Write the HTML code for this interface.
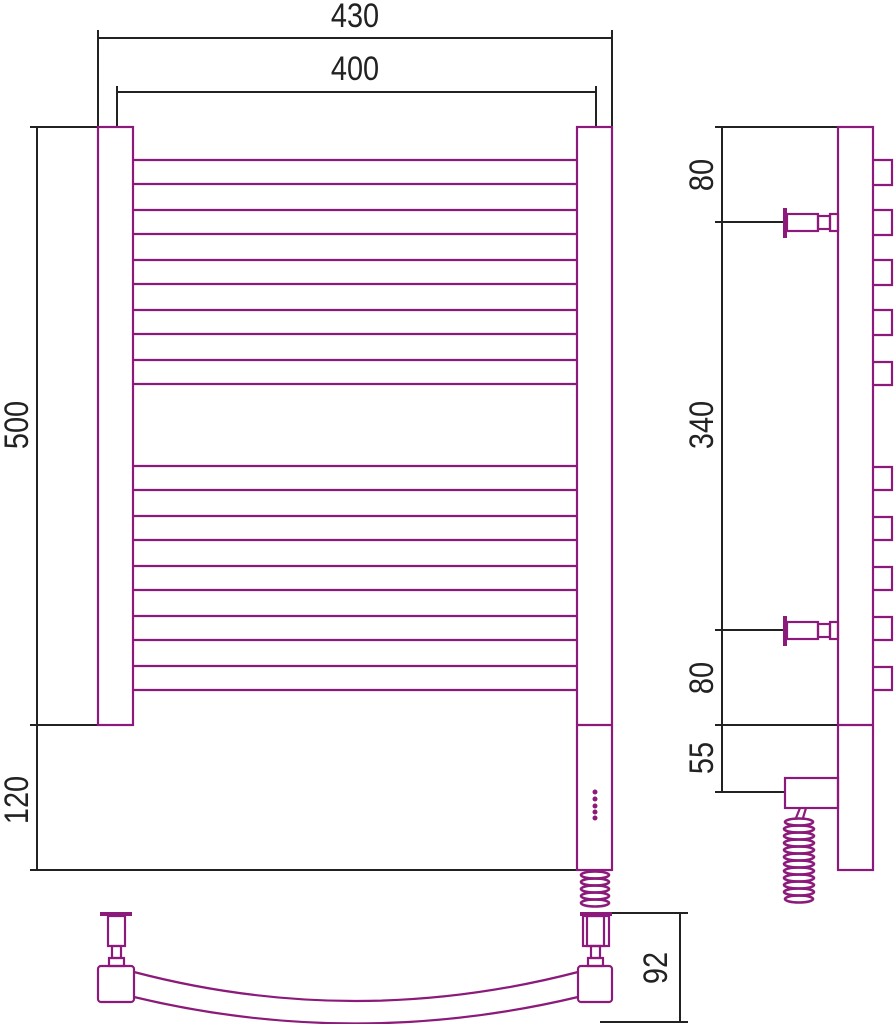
<!DOCTYPE html>
<html><head><meta charset="utf-8"><style>html,body{margin:0;padding:0;background:#fff}svg{display:block}text{font-family:"Liberation Sans",sans-serif;font-size:34px;fill:#222}</style></head><body>
<svg width="896" height="1024" viewBox="0 0 896 1024" xmlns="http://www.w3.org/2000/svg">
<g stroke="#222" stroke-width="2" fill="none">
<line x1="98" y1="38" x2="612" y2="38"/><line x1="98" y1="30" x2="98" y2="127"/><line x1="612" y1="30" x2="612" y2="127"/>
<line x1="117" y1="92" x2="596" y2="92"/><line x1="117" y1="86" x2="117" y2="127"/><line x1="596" y1="86" x2="596" y2="127"/>
<line x1="37" y1="127" x2="37" y2="870"/><line x1="30" y1="127" x2="98" y2="127"/><line x1="30" y1="725" x2="98" y2="725"/><line x1="30" y1="870" x2="577" y2="870"/>
<line x1="722" y1="127" x2="722" y2="792"/><line x1="715" y1="127" x2="838" y2="127"/><line x1="715" y1="222" x2="785" y2="222"/><line x1="715" y1="630" x2="785" y2="630"/><line x1="715" y1="725" x2="838" y2="725"/><line x1="715" y1="792" x2="785" y2="792"/>
<line x1="680" y1="913" x2="680" y2="1022"/><line x1="612" y1="913" x2="688" y2="913"/><line x1="600" y1="1022" x2="688" y2="1022"/>
</g>
<g>
<text x="355" y="27" text-anchor="middle" transform="translate(355 0) scale(0.85 1) translate(-355 0)">430</text>
<text x="355" y="80" text-anchor="middle" transform="translate(355 0) scale(0.85 1) translate(-355 0)">400</text>
<text transform="translate(28 425) rotate(-90) scale(0.85 1)" text-anchor="middle">500</text>
<text transform="translate(28 800) rotate(-90) scale(0.85 1)" text-anchor="middle">120</text>
<text transform="translate(713 175) rotate(-90) scale(0.85 1)" text-anchor="middle">80</text>
<text transform="translate(713 425) rotate(-90) scale(0.85 1)" text-anchor="middle">340</text>
<text transform="translate(713 678) rotate(-90) scale(0.85 1)" text-anchor="middle">80</text>
<text transform="translate(713 758) rotate(-90) scale(0.85 1)" text-anchor="middle">55</text>
<text transform="translate(667 968) rotate(-90) scale(0.85 1)" text-anchor="middle">92</text>
</g>
<g stroke="#8b1a7a" stroke-width="2.2" fill="none">
<rect x="98" y="127" width="35" height="598"/>
<rect x="577" y="127" width="35" height="743"/><line x1="577" y1="725" x2="612" y2="725"/>
<path d="M133 160H577M133 184H577M133 210H577M133 234H577M133 260H577M133 284H577M133 310H577M133 334H577M133 360H577M133 384H577"/>
<path d="M133 466H577M133 490H577M133 516H577M133 540H577M133 566H577M133 590H577M133 616H577M133 640H577M133 666H577M133 690H577"/>
<g stroke-width="2.6">
<ellipse cx="595" cy="875" rx="14" ry="3.5"/><ellipse cx="595" cy="882" rx="14" ry="3.5"/><ellipse cx="595" cy="889" rx="14" ry="3.5"/><ellipse cx="595" cy="896" rx="14" ry="3.5"/><ellipse cx="595" cy="903" rx="14" ry="3.5"/>
</g>
<rect x="838" y="127" width="35" height="743"/><line x1="838" y1="725" x2="873" y2="725"/>
<path d="M873 160h19v25h-19M873 210h19v25h-19M873 260h19v25h-19M873 310h19v25h-19M873 362h19v23h-19M873 467h19v23h-19M873 517h19v23h-19M873 567h19v23h-19M873 617h19v23h-19M873 667h19v23h-19"/>
<g id="br"><line x1="785" y1="208" x2="785" y2="238" stroke-width="4"/><rect x="787" y="214" width="31" height="17"/><rect x="818" y="216" width="12" height="13"/><rect x="830" y="214" width="8" height="17"/></g>
<use href="#br" y="408"/>
<rect x="785" y="778" width="53" height="30"/>
<path d="M800 808 l-4 10 M806 808 l-3 10"/>
<g stroke-width="2.6">
<ellipse cx="799" cy="822" rx="14" ry="3.5"/><ellipse cx="799" cy="829" rx="15" ry="3.5"/><ellipse cx="799" cy="836" rx="15" ry="3.5"/><ellipse cx="799" cy="843" rx="15" ry="3.5"/><ellipse cx="799" cy="850" rx="15" ry="3.5"/><ellipse cx="799" cy="857" rx="15" ry="3.5"/><ellipse cx="799" cy="864" rx="15" ry="3.5"/><ellipse cx="799" cy="871" rx="15" ry="3.5"/><ellipse cx="799" cy="878" rx="15" ry="3.5"/><ellipse cx="799" cy="885" rx="15" ry="3.5"/><ellipse cx="799" cy="892" rx="15" ry="3.5"/><ellipse cx="799" cy="899" rx="14" ry="3.5"/>
</g>
<rect x="98" y="966" width="36" height="36" rx="3"/>
<rect x="578" y="966" width="34" height="36" rx="3"/>
<path d="M134 972 Q355 1030 578 972M134 997 Q355 1050 578 997"/>
<line x1="100" y1="914" x2="132" y2="914" stroke-width="4"/><rect x="108" y="916" width="17" height="30"/><rect x="112" y="946" width="9" height="12"/><rect x="109" y="958" width="15" height="8"/>
<line x1="580" y1="914" x2="612" y2="914" stroke-width="4"/><rect x="583" y="916" width="26" height="30"/><rect x="587" y="916" width="17" height="30"/><rect x="591" y="946" width="9" height="12"/><rect x="588" y="958" width="15" height="8"/>
</g>
<g fill="#8b1a7a"><circle cx="595" cy="792" r="2.5"/><circle cx="595" cy="799" r="2.5"/><circle cx="595" cy="806" r="2.5"/><circle cx="595" cy="812" r="2.5"/><circle cx="595" cy="818" r="2.5"/></g>
</svg>
</body></html>
